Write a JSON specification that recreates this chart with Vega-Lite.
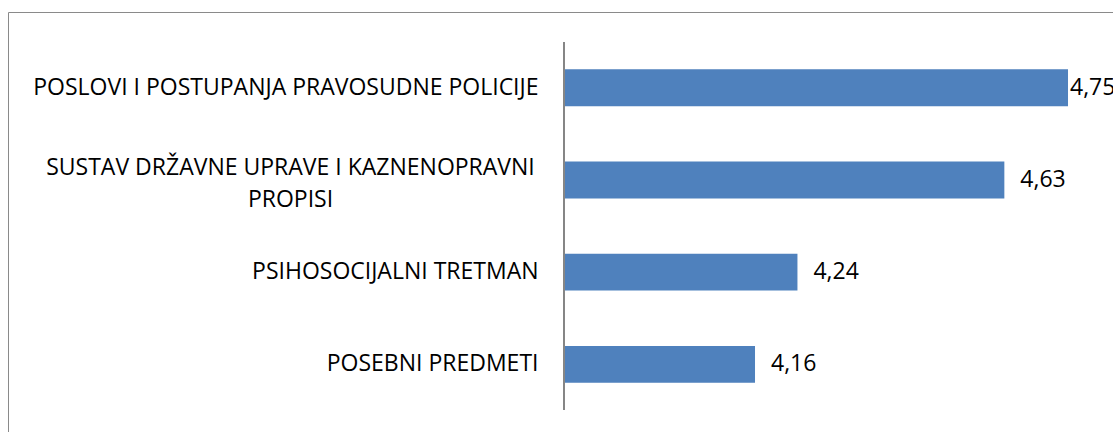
{
  "$schema": "https://vega.github.io/schema/vega-lite/v6.json",
  "width": 1125,
  "height": 440,
  "autosize": {"type": "none"},
  "padding": {"left": 8, "top": 12, "right": -20, "bottom": -20},
  "background": "white",
  "data": {
    "values": [
      {"cat": "POSLOVI I POSTUPANJA PRAVOSUDNE POLICIJE", "value": 4.75},
      {"cat": "SUSTAV DRŽAVNE UPRAVE I KAZNENOPRAVNI\nPROPISI", "value": 4.63},
      {"cat": "PSIHOSOCIJALNI TRETMAN", "value": 4.24},
      {"cat": "POSEBNI PREDMETI", "value": 4.16}
    ]
  },
  "config": {
    "view": {"stroke": "#8a8a8a", "strokeWidth": 1},
    "locale": {"number": {"decimal": ",", "thousands": ".", "grouping": [3], "currency": ["", " kn"]}},
    "font": "Open Sans"
  },
  "encoding": {
    "y": {
      "field": "cat",
      "type": "nominal",
      "scale": {
        "domain": [
          "POSLOVI I POSTUPANJA PRAVOSUDNE POLICIJE",
          "SUSTAV DRŽAVNE UPRAVE I KAZNENOPRAVNI\nPROPISI",
          "PSIHOSOCIJALNI TRETMAN",
          "POSEBNI PREDMETI"
        ],
        "paddingInner": 0.6,
        "paddingOuter": 0.686,
        "align": 0.453
      },
      "axis": {
        "title": null,
        "domain": false,
        "ticks": false,
        "tickSize": 0,
        "offset": -530,
        "labelExpr": "split(datum.value, '\\n')",
        "labelFont": "Open Sans",
        "labelFontSize": 23,
        "labelColor": "#000000",
        "labelLineHeight": 32,
        "labelLimit": 0,
        "labelBaseline": "middle",
        "labelAlign": {"condition": {"test": "indexof(datum.value, '\\n') >= 0", "value": "center"}, "value": "right"},
        "labelPadding": {"condition": {"test": "indexof(datum.value, '\\n') >= 0", "value": 248}, "value": 0},
        "labelOffset": {"condition": {"test": "indexof(datum.value, '\\n') >= 0", "value": -12}, "value": 0}
      }
    }
  },
  "layer": [
    {
      "mark": {"type": "bar", "color": "#4F81BD"},
      "encoding": {
        "x": {
          "field": "value",
          "type": "quantitative",
          "scale": {"domain": [2.7519, 4.8725], "nice": false, "zero": false},
          "axis": null
        },
        "x2": {"datum": 3.8}
      }
    },
    {
      "mark": {"type": "rule", "color": "#868686", "strokeWidth": 1.5},
      "encoding": {
        "x": {"datum": 3.8, "type": "quantitative"},
        "y": {"datum": "POSLOVI I POSTUPANJA PRAVOSUDNE POLICIJE", "type": "nominal", "bandPosition": -0.74},
        "y2": {"datum": "POSEBNI PREDMETI", "bandPosition": 1.74}
      }
    },
    {
      "transform": [{"filter": "datum.value < 4.7"}],
      "mark": {"type": "text", "align": "left", "baseline": "middle", "dx": 16, "fontSize": 23, "font": "Open Sans", "color": "#000000"},
      "encoding": {
        "x": {"field": "value", "type": "quantitative"},
        "text": {"field": "value", "type": "quantitative", "format": ".2f"}
      }
    },
    {
      "transform": [{"filter": "datum.value >= 4.7"}],
      "mark": {"type": "text", "align": "left", "baseline": "middle", "dx": 2, "fontSize": 23, "font": "Open Sans", "color": "#000000"},
      "encoding": {
        "x": {"field": "value", "type": "quantitative"},
        "text": {"field": "value", "type": "quantitative", "format": ".2f"}
      }
    }
  ]
}
